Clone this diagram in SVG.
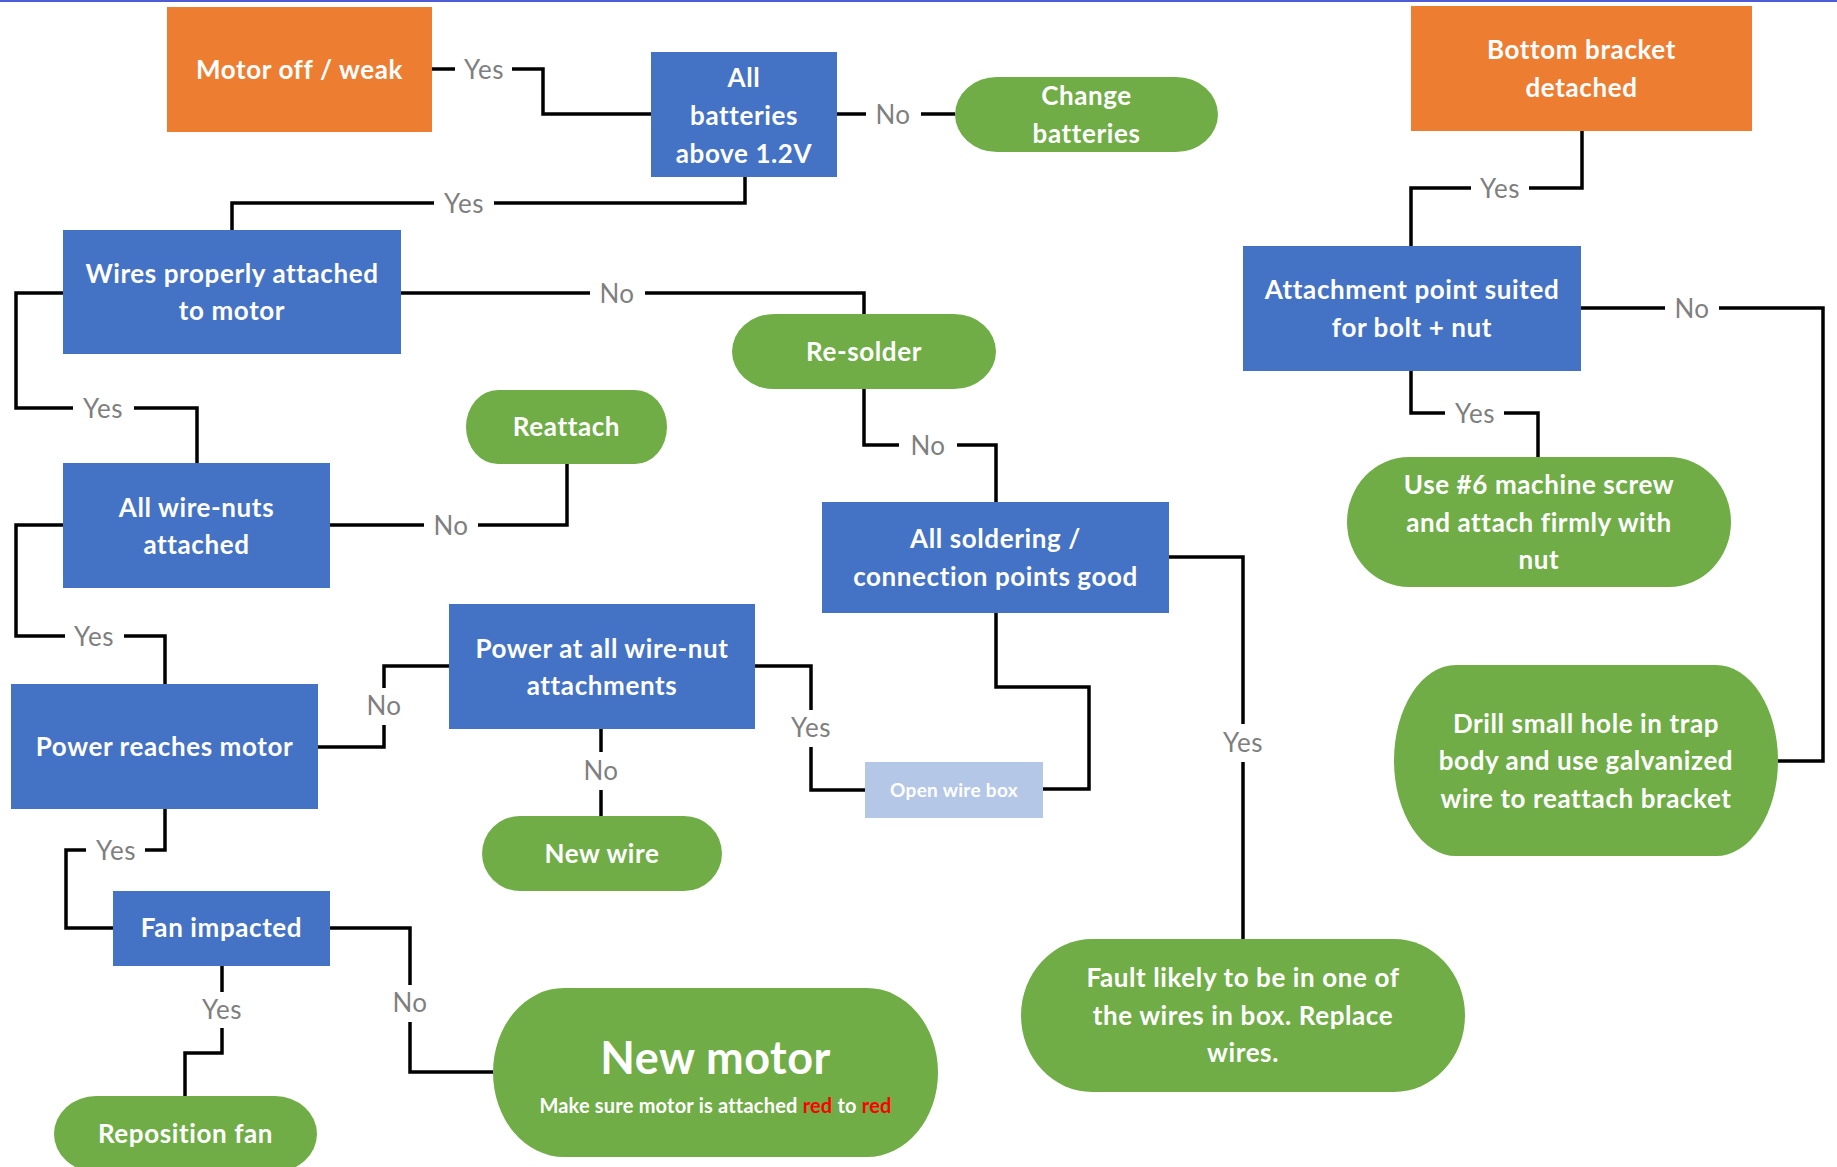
<svg xmlns="http://www.w3.org/2000/svg" width="1837" height="1167" viewBox="0 0 1837 1167">
<style>
.bg{fill:#ffffff}
.orange{fill:#ED7D31}
.blue{fill:#4472C4}
.green{fill:#70AD47}
.light{fill:#B4C7E7}
.t{font-family:Lato,"Liberation Sans",sans-serif;font-weight:bold;font-size:26px;letter-spacing:0.6px;fill:#ffffff;text-anchor:middle}
.small{font-size:19px;letter-spacing:0.3px}
.big{font-size:45px;letter-spacing:0.5px}
.sub{font-size:20px;letter-spacing:0.2px}
.red{fill:#FF0000}
.c{fill:none;stroke:#000000;stroke-width:3.5}
.lb{fill:#ffffff}
.l{font-family:Lato,"Liberation Sans",sans-serif;font-size:26px;letter-spacing:0.5px;fill:#7F7F7F;text-anchor:middle}
</style>
<rect class="bg" x="0" y="0" width="1837" height="1167"/>
<rect x="0" y="0" width="1837" height="2" fill="#4F5BD5"/>

<g id="connectors">
  <path class="c" d="M432,69 H543 V114 H651"/>
  <rect class="lb" x="455" y="60" width="57" height="20"/><text class="l" x="484" y="79">Yes</text>
  <path class="c" d="M837,114 H955"/>
  <rect class="lb" x="866" y="105" width="55" height="20"/><text class="l" x="893" y="124">No</text>
  <path class="c" d="M745,177 V203 H232 V230"/>
  <rect class="lb" x="434" y="194" width="60" height="20"/><text class="l" x="464" y="213">Yes</text>
  <path class="c" d="M401,293 H864 V314"/>
  <rect class="lb" x="590" y="284" width="55" height="20"/><text class="l" x="617" y="303">No</text>
  <path class="c" d="M63,293 H16 V408 H197 V463"/>
  <rect class="lb" x="73" y="399" width="61" height="20"/><text class="l" x="103" y="418">Yes</text>
  <path class="c" d="M864,389 V445 H996 V502"/>
  <rect class="lb" x="899" y="436" width="58" height="20"/><text class="l" x="928" y="455">No</text>
  <path class="c" d="M330,525 H567 V464"/>
  <rect class="lb" x="424" y="516" width="54" height="20"/><text class="l" x="451" y="535">No</text>
  <path class="c" d="M63,525 H16 V636 H165 V684"/>
  <rect class="lb" x="65" y="627" width="59" height="20"/><text class="l" x="94" y="646">Yes</text>
  <path class="c" d="M318,747 H384 V666 H449"/>
  <rect class="lb" x="370" y="688" width="28" height="37"/><text class="l" x="384" y="715">No</text>
  <path class="c" d="M755,666 H811 V790 H865"/>
  <rect class="lb" x="790" y="710" width="42" height="37"/><text class="l" x="811" y="737">Yes</text>
  <path class="c" d="M601,729 V816"/>
  <rect class="lb" x="580" y="752" width="42" height="38"/><text class="l" x="601" y="780">No</text>
  <path class="c" d="M996,613 V687 H1089 V789 H1043"/>
  <path class="c" d="M1169,557 H1243 V939"/>
  <rect class="lb" x="1222" y="724" width="42" height="38"/><text class="l" x="1243" y="752">Yes</text>
  <path class="c" d="M1582,131 V188 H1411 V246"/>
  <rect class="lb" x="1471" y="179" width="58" height="20"/><text class="l" x="1500" y="198">Yes</text>
  <path class="c" d="M1411,371 V413 H1538 V457"/>
  <rect class="lb" x="1445" y="404" width="59" height="20"/><text class="l" x="1475" y="423">Yes</text>
  <path class="c" d="M1581,308 H1823 V761 H1778"/>
  <rect class="lb" x="1665" y="299" width="54" height="20"/><text class="l" x="1692" y="318">No</text>
  <path class="c" d="M165,809 V850 H66 V928 H113"/>
  <rect class="lb" x="86" y="841" width="59" height="20"/><text class="l" x="116" y="860">Yes</text>
  <path class="c" d="M330,928 H410 V1072 H493"/>
  <rect class="lb" x="390" y="985" width="40" height="37"/><text class="l" x="410" y="1012">No</text>
  <path class="c" d="M222,966 V1053 H185 V1096"/>
  <rect class="lb" x="202" y="992" width="40" height="36"/><text class="l" x="222" y="1019">Yes</text>
</g>

<g id="motor-off">
  <rect class="orange" x="167" y="7" width="265" height="125"/>
  <text class="t" x="299.5" y="79">Motor off / weak</text>
</g>
<g id="all-batteries">
  <rect class="blue" x="651" y="52" width="186" height="125"/>
  <text class="t" x="744" y="87">All</text>
  <text class="t" x="744" y="125">batteries</text>
  <text class="t" x="744" y="163">above 1.2V</text>
</g>
<g id="change-batteries">
  <rect class="green" x="955" y="77" width="263" height="75" rx="42" ry="37.5"/>
  <text class="t" x="1086.5" y="105">Change</text>
  <text class="t" x="1086.5" y="143">batteries</text>
</g>
<g id="bottom-bracket">
  <rect class="orange" x="1411" y="6" width="341" height="125"/>
  <text class="t" x="1581.5" y="59">Bottom bracket</text>
  <text class="t" x="1581.5" y="97">detached</text>
</g>
<g id="wires-attached">
  <rect class="blue" x="63" y="230" width="338" height="124"/>
  <text class="t" x="232" y="283">Wires properly attached</text>
  <text class="t" x="232" y="320">to motor</text>
</g>
<g id="re-solder">
  <rect class="green" x="732" y="314" width="264" height="75" rx="42" ry="37.5"/>
  <text class="t" x="864" y="361">Re-solder</text>
</g>
<g id="attachment-point">
  <rect class="blue" x="1243" y="246" width="338" height="125"/>
  <text class="t" x="1412" y="299">Attachment point suited</text>
  <text class="t" x="1412" y="337">for bolt + nut</text>
</g>
<g id="reattach">
  <rect class="green" x="466" y="390" width="201" height="74" rx="32" ry="37"/>
  <text class="t" x="566.5" y="436">Reattach</text>
</g>
<g id="wire-nuts">
  <rect class="blue" x="63" y="463" width="267" height="125"/>
  <text class="t" x="196.5" y="517">All wire-nuts</text>
  <text class="t" x="196.5" y="554">attached</text>
</g>
<g id="use-screw">
  <rect class="green" x="1347" y="457" width="384" height="130" rx="62" ry="65"/>
  <text class="t" x="1539" y="494">Use #6 machine screw</text>
  <text class="t" x="1539" y="532">and attach firmly with</text>
  <text class="t" x="1539" y="569">nut</text>
</g>
<g id="soldering-good">
  <rect class="blue" x="822" y="502" width="347" height="111"/>
  <text class="t" x="995.5" y="548">All soldering /</text>
  <text class="t" x="995.5" y="586">connection points good</text>
</g>
<g id="power-wire-nut">
  <rect class="blue" x="449" y="604" width="306" height="125"/>
  <text class="t" x="602" y="658">Power at all wire-nut</text>
  <text class="t" x="602" y="695">attachments</text>
</g>
<g id="power-reaches">
  <rect class="blue" x="11" y="684" width="307" height="125"/>
  <text class="t" x="164.5" y="756">Power reaches motor</text>
</g>
<g id="drill">
  <rect class="green" x="1394" y="665" width="384" height="191" rx="62" ry="95.5"/>
  <text class="t" x="1586" y="733">Drill small hole in trap</text>
  <text class="t" x="1586" y="770">body and use galvanized</text>
  <text class="t" x="1586" y="808">wire to reattach bracket</text>
</g>
<g id="open-wire-box">
  <rect class="light" x="865" y="762" width="178" height="56"/>
  <text class="t small" x="954" y="797">Open wire box</text>
</g>
<g id="new-wire">
  <rect class="green" x="482" y="816" width="240" height="75" rx="38" ry="37.5"/>
  <text class="t" x="602" y="863">New wire</text>
</g>
<g id="fan-impacted">
  <rect class="blue" x="113" y="891" width="217" height="75"/>
  <text class="t" x="221.5" y="937">Fan impacted</text>
</g>
<g id="new-motor">
  <rect class="green" x="493" y="988" width="445" height="169" rx="71" ry="84.5"/>
  <text class="t big" x="715.5" y="1074">New motor</text>
  <text class="t sub" x="715.5" y="1113">Make sure motor is attached <tspan class="red">red</tspan> to <tspan class="red">red</tspan></text>
</g>
<g id="fault">
  <rect class="green" x="1021" y="939" width="444" height="153" rx="71" ry="76.5"/>
  <text class="t" x="1243" y="987">Fault likely to be in one of</text>
  <text class="t" x="1243" y="1025">the wires in box. Replace</text>
  <text class="t" x="1243" y="1062">wires.</text>
</g>
<g id="reposition-fan">
  <rect class="green" x="54" y="1096" width="263" height="76" rx="42" ry="38"/>
  <text class="t" x="185.5" y="1143">Reposition fan</text>
</g>
</svg>
